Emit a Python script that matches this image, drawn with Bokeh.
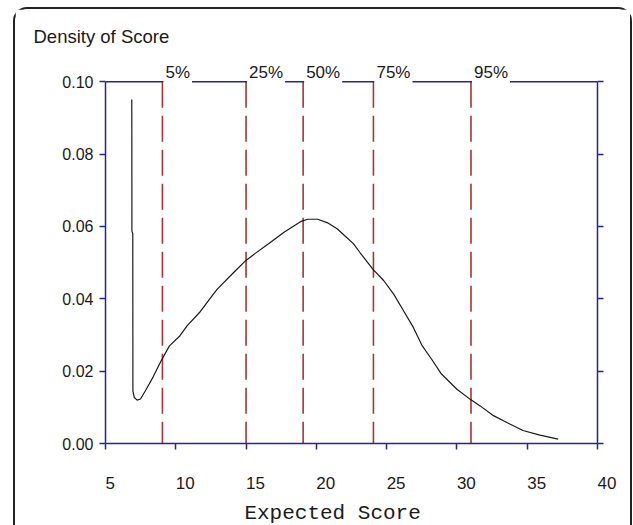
from bokeh.plotting import figure
from bokeh.models import (Range1d, LinearAxis, FixedTicker, NumeralTickFormatter, Label,
                          Span, CustomJSTickFormatter)
from bokeh.layouts import column
from bokeh.embed import file_html
from bokeh.resources import INLINE

# ---- data ----
score = [6.87, 6.88, 6.94, 6.95, 7.05, 7.25, 7.49, 7.84, 8.4, 8.95, 9.55, 10.3, 10.8,
         11.75, 12.5, 12.95, 14.1, 14.9, 15.7, 16.6, 17.7, 18.9, 19.4, 20.1, 20.8, 21.5,
         22.0, 22.65, 23.1, 24.0, 24.8, 25.5, 26.2, 26.9, 27.5, 28.2, 28.9, 30.0, 30.95,
         31.65, 32.6, 33.55, 34.7, 35.9, 37.2]
density = [0.0951, 0.0587, 0.0580, 0.0145, 0.0127, 0.0120, 0.0123, 0.0146, 0.0185,
           0.0228, 0.0270, 0.0298, 0.0325, 0.0365, 0.0404, 0.0427, 0.0472, 0.0503,
           0.0527, 0.0552, 0.0584, 0.0614, 0.0620, 0.0620, 0.0610, 0.0593, 0.0575,
           0.0552, 0.0528, 0.0483, 0.0450, 0.0413, 0.0367, 0.0321, 0.0272, 0.0233,
           0.0192, 0.0150, 0.0122, 0.0104, 0.0077, 0.0058, 0.0036, 0.0023, 0.0012]
quantile_labels = ["5%", "25%", "50%", "75%", "95%"]
quantile_values = [9.05, 15.0, 19.06, 24.06, 31.0]
x_ticks = [5, 10, 15, 20, 25, 30, 35, 40]
x_tick_labels = ["5", "10", "15", "20", "25", "30", "35", "40"]
y_ticks = [0.0, 0.02, 0.04, 0.06, 0.08, 0.10]
y_top = 0.10
y_title = "Density of Score"
x_title = "Expected Score"

AXIS = "#24249C"
RED = "#A83434"
INK = "#1a1a1a"
SANS = "Liberation Sans"
NBSP = "\u00a0"

p = figure(frame_width=492, frame_height=388,
           x_range=Range1d(5, 40), y_range=Range1d(0, 0.10727),
           output_backend="svg", toolbar_location=None,
           min_border_left=90, min_border_right=33,
           min_border_top=46, min_border_bottom=0,
           background_fill_color="white", border_fill_color="white")
p.grid.visible = False
p.outline_line_color = None

p.title.text = y_title
p.title.align = "left"
p.title.offset = -72
p.title.standoff = 17
p.title.text_font = SANS
p.title.text_font_size = "18.5px"
p.title.text_font_style = "normal"
p.title.text_color = INK


def style_axis(ax):
    ax.axis_line_color = AXIS
    ax.axis_line_width = 1.5
    ax.major_tick_line_color = AXIS
    ax.major_tick_line_width = 1.5
    ax.major_tick_out = 6
    ax.major_tick_in = 0
    ax.minor_tick_line_color = None


# left axis
ya = p.yaxis[0]
ya.ticker = FixedTicker(ticks=y_ticks)
ya.formatter = NumeralTickFormatter(format="0.00")
ya.bounds = (0, y_top)
style_axis(ya)
ya.major_label_text_font = SANS
ya.major_label_text_font_size = "16px"
ya.major_label_text_color = INK
ya.major_label_standoff = 6

# bottom axis: labels start at the tick (leading padding keeps them left-aligned)
xa = p.xaxis[0]
xa.ticker = FixedTicker(ticks=x_ticks)
style_axis(xa)
xa.major_label_overrides = {t: NBSP * (2 * len(lab)) + lab for t, lab in zip(x_ticks, x_tick_labels)}
xa.major_label_text_font = SANS
xa.major_label_text_font_size = "17px"
xa.major_label_text_color = INK
xa.major_label_standoff = 24
xa.axis_label = x_title + NBSP * 3
xa.axis_label_text_font = "Liberation Mono"
xa.axis_label_text_font_size = "21px"
xa.axis_label_text_font_style = "normal"
xa.axis_label_text_color = INK
xa.axis_label_standoff = 6

# right axis
ra = LinearAxis(ticker=FixedTicker(ticks=y_ticks), formatter=CustomJSTickFormatter(code="return ''"))
ra.bounds = (0, y_top)
style_axis(ra)
p.add_layout(ra, "right")

# top line
p.add_layout(Span(location=y_top, dimension="width", line_color=AXIS, line_width=1.5))

# quantile lines
p.segment(x0=quantile_values, y0=[y_top] * len(quantile_values),
          x1=quantile_values, y1=[0.0] * len(quantile_values),
          line_color=RED, line_width=1.6, line_dash="26 8")

# density curve
p.line(score, density, line_color=INK, line_width=1.2)

# quantile labels with white background over the top line
for q, lab in zip(quantile_values, quantile_labels):
    p.add_layout(Label(x=q, y=y_top, text=lab, x_offset=1, y_offset=9,
                       text_align="left", text_baseline="alphabetic",
                       text_font=SANS, text_font_size="17px", text_color=INK,
                       background_fill_color="white", padding=2))

layout = column(p, styles={"margin-left": "13px", "margin-top": "7px",
                           "border": "2px solid #222",
                           "border-bottom": "none",
                           "border-radius": "14px 14px 0 0"})

open("out.html", "w").write(file_html(layout, INLINE))
